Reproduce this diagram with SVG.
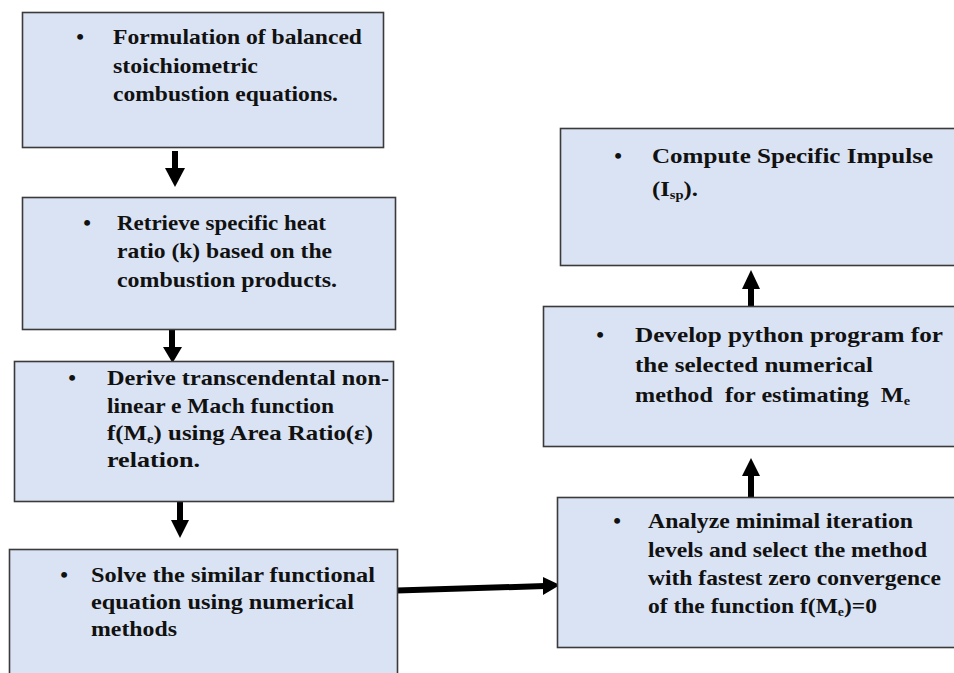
<svg xmlns="http://www.w3.org/2000/svg" width="954" height="673" viewBox="0 0 954 673">
<style>
.box{fill:#dae3f3;stroke:#3a3a3a;stroke-width:1.6}
.t{font-family:"Liberation Serif","Times New Roman",serif;font-weight:bold;font-size:22px;fill:#111}
.sub{font-size:13px}
.ar{fill:#000}
</style>
<rect width="954" height="673" fill="#fff"/>
<g id="connectors">
  <rect class="ar" x="172" y="151" width="6" height="18"/>
  <polygon class="ar" points="165,168 185,168 175,187"/>
  <rect class="ar" x="169" y="329" width="6" height="19"/>
  <polygon class="ar" points="163,347 182,347 172.5,363"/>
  <rect class="ar" x="177" y="502" width="6" height="19"/>
  <polygon class="ar" points="171,520 189,520 180,538"/>
  <polygon class="ar" points="397,587.5 545,583 545,589 397,593.5"/>
  <polygon class="ar" points="543,577 560,585 543,595"/>
  <rect class="ar" x="748" y="474" width="6" height="23"/>
  <polygon class="ar" points="742,476 760,476 751,458"/>
  <rect class="ar" x="748" y="287" width="6" height="20"/>
  <polygon class="ar" points="742,289 760,289 751,270"/>
</g>
<g id="n1">
  <rect class="box" x="22.5" y="12.5" width="361" height="135"/>
  <text class="t" x="80" y="44" text-anchor="middle">•</text>
  <text class="t" x="113" y="44" textLength="249" lengthAdjust="spacingAndGlyphs">Formulation of balanced</text>
  <text class="t" x="113" y="73" textLength="145" lengthAdjust="spacingAndGlyphs">stoichiometric</text>
  <text class="t" x="113" y="101" textLength="225" lengthAdjust="spacingAndGlyphs">combustion equations.</text>
</g>
<g id="n2">
  <rect class="box" x="22.5" y="197.5" width="373" height="132"/>
  <text class="t" x="87" y="230" text-anchor="middle">•</text>
  <text class="t" x="117" y="230" textLength="209" lengthAdjust="spacingAndGlyphs">Retrieve specific heat</text>
  <text class="t" x="117" y="258" textLength="215" lengthAdjust="spacingAndGlyphs">ratio (k) based on the</text>
  <text class="t" x="117" y="287" textLength="220" lengthAdjust="spacingAndGlyphs">combustion products.</text>
</g>
<g id="n3">
  <rect class="box" x="14.5" y="361.5" width="379" height="140"/>
  <text class="t" x="72" y="385" text-anchor="middle">•</text>
  <text class="t" x="107" y="385" textLength="282" lengthAdjust="spacingAndGlyphs">Derive transcendental non-</text>
  <text class="t" x="107" y="413" textLength="227" lengthAdjust="spacingAndGlyphs">linear e Mach function</text>
  <text class="t" x="107" y="440" textLength="266" lengthAdjust="spacingAndGlyphs">f(M<tspan class="sub" dy="3">e</tspan><tspan dy="-3">) using Area Ratio(ε)</tspan></text>
  <text class="t" x="107" y="467" textLength="93" lengthAdjust="spacingAndGlyphs">relation.</text>
</g>
<g id="n4">
  <rect class="box" x="9.5" y="549.5" width="388" height="135"/>
  <text class="t" x="64" y="582" text-anchor="middle">•</text>
  <text class="t" x="91" y="582" textLength="284" lengthAdjust="spacingAndGlyphs">Solve the similar functional</text>
  <text class="t" x="91" y="609" textLength="263" lengthAdjust="spacingAndGlyphs">equation using numerical</text>
  <text class="t" x="91" y="636" textLength="86" lengthAdjust="spacingAndGlyphs">methods</text>
</g>
<g id="n5">
  <rect class="box" x="557.5" y="497.5" width="400" height="150"/>
  <text class="t" x="617" y="528" text-anchor="middle">•</text>
  <text class="t" x="648" y="528" textLength="265" lengthAdjust="spacingAndGlyphs">Analyze minimal iteration</text>
  <text class="t" x="648" y="557" textLength="279" lengthAdjust="spacingAndGlyphs">levels and select the method</text>
  <text class="t" x="648" y="585" textLength="293" lengthAdjust="spacingAndGlyphs">with fastest zero convergence</text>
  <text class="t" x="648" y="613" textLength="229" lengthAdjust="spacingAndGlyphs">of the function f(M<tspan class="sub" dy="3">e</tspan><tspan dy="-3">)=0</tspan></text>
</g>
<g id="n6">
  <rect class="box" x="543.5" y="306.5" width="414" height="140"/>
  <text class="t" x="600" y="342" text-anchor="middle">•</text>
  <text class="t" x="635" y="342" textLength="308" lengthAdjust="spacingAndGlyphs">Develop python program for</text>
  <text class="t" x="635" y="372" textLength="238" lengthAdjust="spacingAndGlyphs">the selected  numerical</text>
  <text class="t" x="635" y="402" textLength="275" lengthAdjust="spacingAndGlyphs" xml:space="preserve">method  for estimating  M<tspan class="sub" dy="3">e</tspan></text>
</g>
<g id="n7">
  <rect class="box" x="560.5" y="128.5" width="397" height="137"/>
  <text class="t" x="618" y="163" text-anchor="middle">•</text>
  <text class="t" x="652" y="163" textLength="281" lengthAdjust="spacingAndGlyphs">Compute Specific Impulse</text>
  <text class="t" x="652" y="196" textLength="46" lengthAdjust="spacingAndGlyphs">(I<tspan class="sub" dy="3">sp</tspan><tspan dy="-3">).</tspan></text>
</g>
</svg>
